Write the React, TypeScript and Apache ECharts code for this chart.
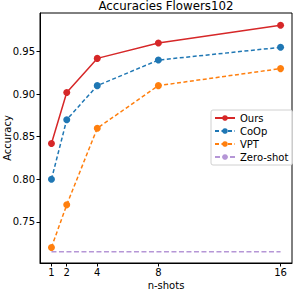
import React, { useEffect, useRef } from "react";
import * as echarts from "echarts";

const shots = [1, 2, 4, 8, 16];
const ours = [0.842, 0.902, 0.942, 0.96, 0.981];
const coop = [0.8, 0.87, 0.91, 0.94, 0.955];
const vpt = [0.72, 0.77, 0.86, 0.91, 0.93];
const zeroShot = [0.715, 0.715];
const zeroShotX = [1, 16];
const yTicks = [0.75, 0.8, 0.85, 0.9, 0.95];

const FONT = "DejaVu Sans";

export default function App() {
  const ref = useRef<HTMLDivElement>(null);
  useEffect(() => {
    const chart = echarts.init(ref.current!, null, { renderer: "svg" });
    const mk = (ys: number[]) => shots.map((x, i) => [x, ys[i]]);
    chart.setOption({
      animation: false,
      textStyle: { fontFamily: FONT },
      title: {
        text: "Accuracies Flowers102",
        left: 166,
        top: 0,
        padding: 0,
        textAlign: "center",
        textStyle: { fontFamily: FONT, fontSize: 11.8, fontWeight: "normal", color: "#000" },
      },
      grid: {
        left: 40,
        top: 13,
        right: 7,
        bottom: 36,
        outerBoundsMode: "none",
        containLabel: false,
        show: true,
        borderColor: "#000",
        borderWidth: 1,
        backgroundColor: "transparent",
      },
      legend: {
        left: 211,
        top: 110,
        orient: "vertical",
        itemWidth: 20,
        itemHeight: 7,
        itemGap: 3,
        padding: [3, 4, 3, 3],
        borderColor: "#d0d0d0",
        borderWidth: 1,
        borderRadius: 2,
        backgroundColor: "rgba(255,255,255,0.8)",
        textStyle: { fontFamily: FONT, fontSize: 10, color: "#000", padding: [0, 0, 0, 0] },
        data: ["Ours", "CoOp", "VPT", "Zero-shot"],
      },
      xAxis: {
        type: "value",
        min: 0.25,
        max: 16.75,
        name: "n-shots",
        nameLocation: "middle",
        nameGap: 17,
        nameMoveOverlap: false,
        nameTextStyle: { fontFamily: FONT, fontSize: 10, color: "#000" },
        splitLine: { show: false },
        axisLine: { show: true, onZero: false, lineStyle: { color: "#000" } },
        axisTick: { show: true, length: 3.5, customValues: shots, lineStyle: { color: "#000" } },
        axisLabel: {
          customValues: shots,
          fontFamily: FONT,
          fontSize: 10,
          color: "#000",
          margin: 4,
        },
      },
      yAxis: {
        type: "value",
        min: 0.7017,
        max: 0.9953,
        name: "Accuracy",
        nameLocation: "middle",
        nameGap: 28,
        nameMoveOverlap: false,
        nameTextStyle: { fontFamily: FONT, fontSize: 10, color: "#000" },
        splitLine: { show: false },
        axisLine: { show: true, onZero: false, lineStyle: { color: "#000" } },
        axisTick: { show: true, length: 3.5, customValues: yTicks, lineStyle: { color: "#000" } },
        axisLabel: {
          customValues: yTicks,
          formatter: (v: number) => v.toFixed(2),
          fontFamily: FONT,
          fontSize: 10,
          color: "#000",
          margin: 5,
        },
      },
      series: [
        {
          name: "Ours",
          type: "line",
          data: mk(ours),
          symbol: "circle",
          symbolSize: 7,
          color: "#d62728",
          lineStyle: { width: 1.5, type: "solid" },
          itemStyle: { color: "#d62728" },
        },
        {
          name: "CoOp",
          type: "line",
          data: mk(coop),
          symbol: "circle",
          symbolSize: 7,
          color: "#1f77b4",
          lineStyle: { width: 1.5, type: [4, 2.5] },
          itemStyle: { color: "#1f77b4" },
        },
        {
          name: "VPT",
          type: "line",
          data: mk(vpt),
          symbol: "circle",
          symbolSize: 7,
          color: "#ff7f0e",
          lineStyle: { width: 1.5, type: [4, 2.5] },
          itemStyle: { color: "#ff7f0e" },
        },
        {
          name: "Zero-shot",
          type: "line",
          data: zeroShotX.map((x, i) => [x, zeroShot[i]]),
          symbol: "none",
          color: "#b596d6",
          lineStyle: { width: 1.5, type: [5, 2.5], color: "#b596d6" },
          itemStyle: { color: "#b596d6" },
        },
      ],
    });
    return () => chart.dispose();
  }, []);
  return <div ref={ref} style={{ width: 299, height: 299, position: "absolute", left: 0, top: 0 }} />;
}
